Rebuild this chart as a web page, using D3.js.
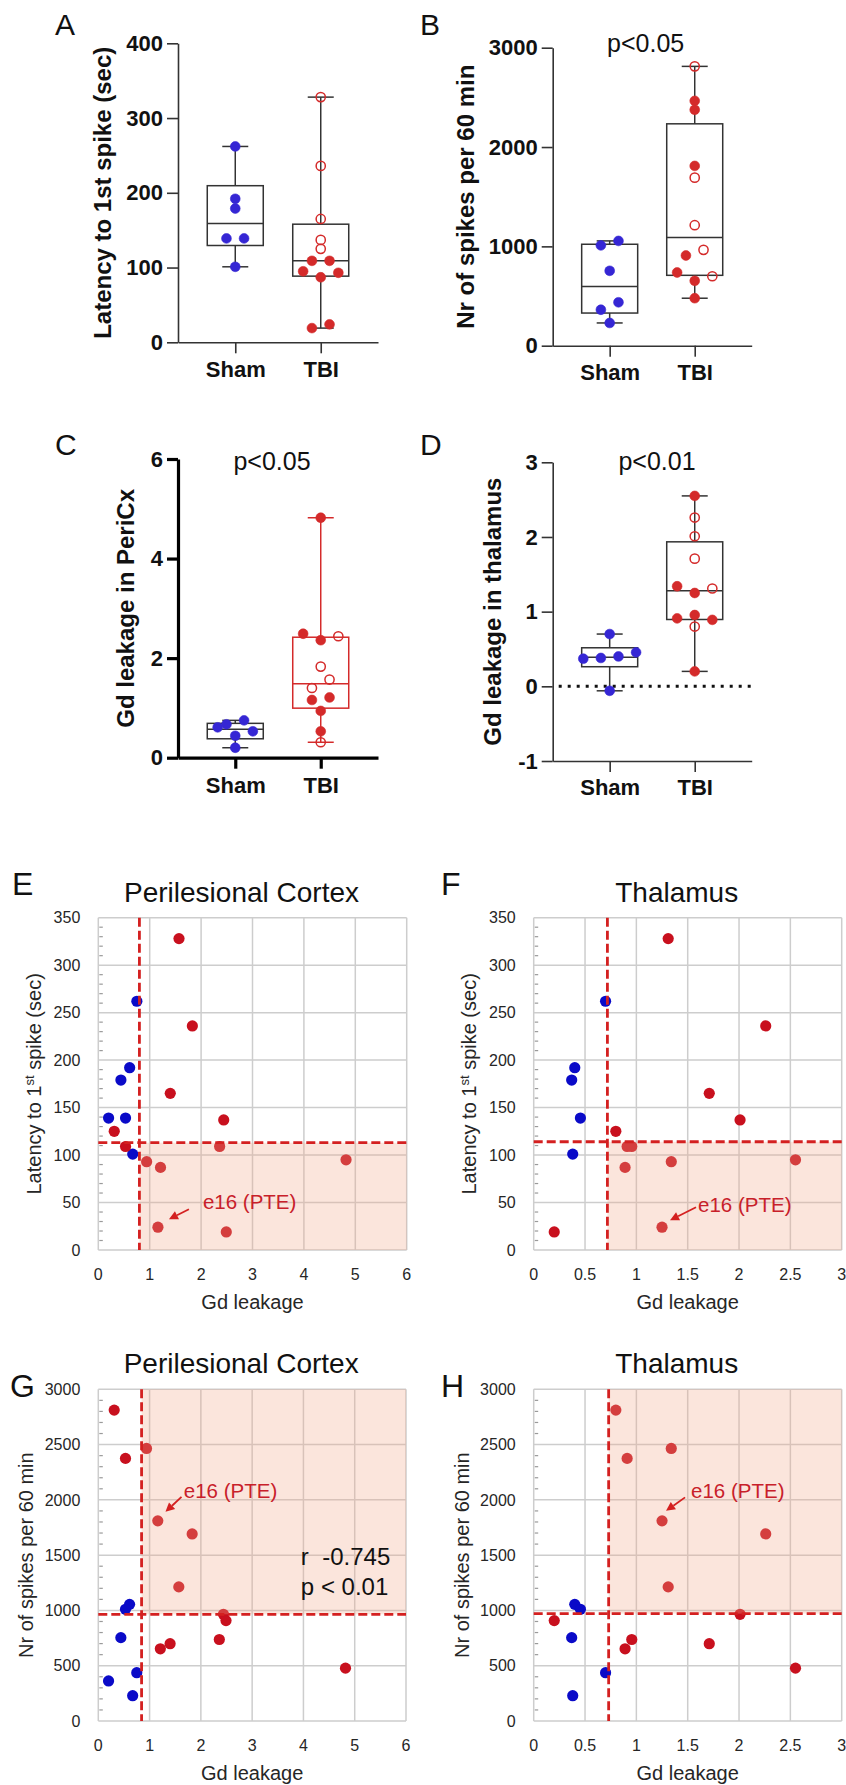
<!DOCTYPE html>
<html>
<head>
<meta charset="utf-8">
<title>Latency, spikes and Gd leakage</title>
<script src="https://d3js.org/d3.v7.min.js"></script>
<style>
	body { margin: 0; background: #fff; }
	svg { display: block; }
</style>
</head>
<body>
<svg id="fig" width="846" height="1785"></svg>
<script>
	// groups on the box plots
	const groups = ["Sham", "TBI"]

	// one entry per sham animal
	const shamLatency = [262, 192, 179, 139, 139, 101]
	const shamSpikes = [437, 1055, 754, 362, 1010, 229]
	const shamGdCx = [0.75, 0.61, 0.44, 0.20, 0.53, 0.67]
	const shamGdTh = [0.70, 0.40, 0.37, -0.06, 0.455, 0.38]

	// one entry per TBI animal (same order in every array)
	const tbiLatency = [328, 236, 165, 137, 125, 109, 109, 93, 87, 95, 24, 19]
	const tbiSpikes = [1213, 1692, 699, 965, 2812, 2375, 737, 2465, 653, 478, 1810, 908]
	const tbiGdCx = [1.57, 1.83, 1.40, 2.44, 0.31, 0.53, 2.36, 0.94, 1.21, 4.82, 1.16, 2.49]
	const tbiGdTh = [1.31, 2.26, 1.71, 2.01, 0.80, 0.91, 0.955, 1.34, 0.89, 2.55, 1.25, 0.20]
	const tbiOpenSymbol = [true, true, true, true, true, false, false, false, false, false, false, false]
	const pteAnimal = 10
	const pteLabel = "e16 (PTE)"

	// tick values
	const latencyTicks = [0, 100, 200, 300, 400]
	const spikeTicks = [0, 1000, 2000, 3000]
	const cxTicks = [0, 2, 4, 6]
	const thTicks = [-1, 0, 1, 2, 3]

	// cut-offs used on the scatter plots [gd leakage, y value]
	const cutE = [0.80, 113]
	const cutF = [0.718, 114]
	const cutG = [0.844, 965]
	const cutH = [0.73, 971]

	const FONT = "'Liberation Sans', Arial, Helvetica, sans-serif"
	const boxBlue = "#3526d4", boxRed = "#d42a2a"
	const dotBlue = "#0a0ac8", dotRed = "#c8101e"
	const cutRed = "#d42020"

	const svg = d3.select("#fig")

	// percentile as Prism computes it, position (n+1)p
	function quant(s, p) {
		const n = s.length, pos = (n + 1) * p
		const i = Math.floor(pos), f = pos - i
		if (i < 1) return s[0]
		if (i >= n) return s[n - 1]
		return s[i - 1] + f * (s[i] - s[i - 1])
	}

	// spread points that sit on nearly the same row
	function swarm(vals, y, step) {
		const idx = d3.range(vals.length).sort((a, b) => vals[a] - vals[b])
		const rows = []
		idx.forEach(i => {
			const r = rows[rows.length - 1]
			if (r && Math.abs(y(vals[i]) - y(vals[r[0]])) < 8.5) r.push(i)
			else rows.push([i])
		})
		const off = new Array(vals.length).fill(0)
		rows.forEach(r => {
			const k = r.length
			let order = r.slice()
			if (k === 3) {
				const m = d3.mean(r, i => vals[i])
				const c = d3.maxIndex(r, i => Math.abs(vals[i] - m))
				const sides = r.filter((_, j) => j !== c).sort((a, b) => vals[b] - vals[a])
				order = [sides[0], r[c], sides[1]]
			}
			order.forEach((i, j) => off[i] = (j - (k - 1) / 2) * step)
		})
		return off
	}

	function letter(t, x, y, size) {
		svg.append("text").attr("x", x).attr("y", y).text(t)
			.attr("font-family", FONT).attr("font-size", size).attr("fill", "#111")
	}

	function boxPanel(o) {
		const g = svg.append("g")
		const x = d3.scalePoint().domain(groups).range([o.left, o.right]).padding(0.67)
		const y = d3.scaleLinear().domain(o.domain).range([o.bottom, o.top])
		const axW = o.heavy ? 3.2 : 1.6, axC = o.heavy ? "#000" : "#333"

		if (o.zeroLine) {
			g.append("line").attr("x1", o.left + 6).attr("x2", o.right).attr("y1", y(0)).attr("y2", y(0))
				.attr("stroke", "#111").attr("stroke-width", 3).attr("stroke-dasharray", "3,6")
		}

		const ya = g.append("g").attr("transform", `translate(${o.left},0)`)
			.call(d3.axisLeft(y).tickValues(o.ticks).tickFormat(d => String(d))
				.tickSize(11).tickSizeOuter(0).tickPadding(4))
		const xa = g.append("g").attr("transform", `translate(0,${o.bottom})`)
			.call(d3.axisBottom(x).tickSize(11).tickSizeOuter(0).tickPadding(o.xPad))
		;[ya, xa].forEach(a => {
			a.selectAll("path,line").attr("stroke", axC).attr("stroke-width", axW)
			a.selectAll("text").attr("font-family", FONT).attr("font-weight", "bold")
				.attr("font-size", 22).attr("fill", "#111")
		})

		groups.forEach((grp, gi) => {
			const vals = o.values[gi]
			const s = vals.slice().sort(d3.ascending)
			const q1 = quant(s, 0.25), med = quant(s, 0.5), q3 = quant(s, 0.75)
			const cx = x(grp)
			const col = gi === 1 && o.redBox ? boxRed : "#333"
			const bw = 1.5
			const ln = (x1, y1, x2, y2) => g.append("line").attr("x1", x1).attr("y1", y1)
				.attr("x2", x2).attr("y2", y2).attr("stroke", col).attr("stroke-width", bw)
			ln(cx, y(s[0]), cx, y(q1))
			ln(cx, y(q3), cx, y(s[s.length - 1]))
			ln(cx - 13, y(s[0]), cx + 13, y(s[0]))
			ln(cx - 13, y(s[s.length - 1]), cx + 13, y(s[s.length - 1]))
			g.append("rect").attr("x", cx - 28).attr("width", 56)
				.attr("y", y(q3)).attr("height", y(q1) - y(q3))
				.attr("fill", "none").attr("stroke", col).attr("stroke-width", bw)
			ln(cx - 28, y(med), cx + 28, y(med))

			const off = swarm(vals, y, 17.6)
			vals.forEach((v, i) => {
				const open = gi === 1 && tbiOpenSymbol[i]
				const c = gi === 0 ? boxBlue : boxRed
				g.append("circle").attr("cx", cx + off[i]).attr("cy", y(v))
					.attr("r", open ? 4.6 : 4.9)
					.attr("fill", open ? "none" : c)
					.attr("stroke", c).attr("stroke-width", open ? 1.5 : 0.6)
			})
		})

		g.append("text").attr("transform", `translate(${o.labelX},${(o.top + o.bottom) / 2}) rotate(-90)`)
			.attr("text-anchor", "middle").attr("font-family", FONT).attr("font-weight", "bold")
			.attr("font-size", 24).attr("fill", "#111").text(o.label)

		if (o.pText) {
			g.append("text").attr("x", o.pText[1]).attr("y", o.pText[2]).attr("text-anchor", "middle")
				.attr("font-family", FONT).attr("font-size", 25).attr("fill", "#111").text(o.pText[0])
		}
		letter(o.letter[0], o.letter[1], o.letter[2], 30)
	}

	function scatterPanel(o) {
		const g = svg.append("g")
		const x = d3.scaleLinear().domain([0, o.xMax]).range([o.left, o.right])
		const y = d3.scaleLinear().domain([0, o.yMax]).range([o.bottom, o.top])
		const xt = d3.range(0, o.xMax + 1e-9, o.xStep)
		const yt = d3.range(0, o.yMax + 1e-9, o.yStep)
		const grid = "#cdcdcd"

		// minor ticks on the value axis
		d3.range(0, o.yMax, o.yStep / 5).filter((d, i) => i % 5 !== 0).forEach(d => {
			g.append("line").attr("x1", o.left + 1).attr("x2", o.left + 4.5)
				.attr("y1", y(d)).attr("y2", y(d)).attr("stroke", "#9a9a9a").attr("stroke-width", 1.2)
		})
		xt.forEach(d => g.append("line").attr("x1", x(d)).attr("x2", x(d)).attr("y1", o.top).attr("y2", o.bottom)
			.attr("stroke", grid).attr("stroke-width", 1.5))
		yt.forEach(d => g.append("line").attr("x1", o.left).attr("x2", o.right).attr("y1", y(d)).attr("y2", y(d))
			.attr("stroke", grid).attr("stroke-width", 1.5))

		const pts = []
		o.sham[0].forEach((v, i) => pts.push([v, o.sham[1][i], dotBlue]))
		o.tbi[0].forEach((v, i) => pts.push([v, o.tbi[1][i], dotRed]))
		g.selectAll("circle.pt").data(pts.filter(p => p[0] >= 0 && p[0] <= o.xMax))
			.join("circle").attr("class", "pt")
			.attr("cx", d => x(d[0])).attr("cy", d => y(d[1])).attr("r", 5.6).attr("fill", d => d[2])

		// shaded quadrant
		const [cx0, cy0] = o.cut
		const yA = o.shadeHigh ? o.yMax : cy0, yB = o.shadeHigh ? cy0 : 0
		g.append("rect").attr("x", x(cx0)).attr("width", x(o.xMax) - x(cx0))
			.attr("y", y(yA)).attr("height", y(yB) - y(yA))
			.attr("fill", "#f2a88a").attr("fill-opacity", 0.3)

		g.append("line").attr("x1", x(cx0)).attr("x2", x(cx0)).attr("y1", o.top).attr("y2", o.bottom)
			.attr("stroke", cutRed).attr("stroke-width", 2.8).attr("stroke-dasharray", "9,4")
		g.append("line").attr("x1", o.left).attr("x2", o.right).attr("y1", y(cy0)).attr("y2", y(cy0))
			.attr("stroke", cutRed).attr("stroke-width", 2.8).attr("stroke-dasharray", "9,4")

		// tick labels
		g.selectAll("text.yt").data(yt).join("text").attr("class", "yt")
			.attr("x", o.left - 18).attr("y", d => y(d)).attr("dy", "0.36em").attr("text-anchor", "end")
			.attr("font-family", FONT).attr("font-size", 16).attr("fill", "#262626").text(d => d)
		g.selectAll("text.xt").data(xt).join("text").attr("class", "xt")
			.attr("x", d => x(d)).attr("y", o.bottom + 30).attr("text-anchor", "middle")
			.attr("font-family", FONT).attr("font-size", 16).attr("fill", "#262626").text(d => d)

		g.append("text").attr("x", (o.left + o.right) / 2).attr("y", o.bottom + 59).attr("text-anchor", "middle")
			.attr("font-family", FONT).attr("font-size", 20).attr("fill", "#262626").text("Gd leakage")
		g.append("text").attr("x", (o.left + o.right) / 2 - 11).attr("y", o.top - 16).attr("text-anchor", "middle")
			.attr("font-family", FONT).attr("font-size", 28).attr("fill", "#111").text(o.title)

		const yl = g.append("text")
			.attr("transform", `translate(${o.left - o.labelGap},${(o.top + o.bottom) / 2}) rotate(-90)`)
			.attr("text-anchor", "middle").attr("font-family", FONT).attr("font-size", 20).attr("fill", "#262626")
		if (o.sup) {
			yl.append("tspan").text(o.label[0])
			yl.append("tspan").attr("font-size", 13).attr("dy", -7).text(o.label[1])
			yl.append("tspan").attr("dy", 7).text(o.label[2])
		} else {
			yl.text(o.label)
		}

		// annotation for the PTE animal
		const px = x(o.tbi[0][pteAnimal]), py = y(o.tbi[1][pteAnimal])
		const a = o.arrow
		const sx = px + a[0], sy = py + a[1], ex = px + a[2], ey = py + a[3]
		const ang = Math.atan2(ey - sy, ex - sx), hl = 9, hw = 4.5
		const bx = ex - hl * Math.cos(ang), by = ey - hl * Math.sin(ang)
		g.append("line").attr("x1", sx).attr("y1", sy).attr("x2", bx).attr("y2", by)
			.attr("stroke", cutRed).attr("stroke-width", 1.8)
		g.append("path").attr("d", `M${ex},${ey}L${bx - hw * Math.sin(ang)},${by + hw * Math.cos(ang)}L${bx + hw * Math.sin(ang)},${by - hw * Math.cos(ang)}Z`)
			.attr("fill", cutRed)
		g.append("text").attr("x", px + a[4]).attr("y", py + a[5]).attr("font-family", FONT)
			.attr("font-size", 20.5).attr("fill", "#c8202a").text(pteLabel)

		if (o.stats) {
			o.stats.forEach((t, i) => g.append("text").attr("x", x(3.95)).attr("y", y(1410) + i * 30)
				.style("white-space", "pre").attr("font-family", FONT).attr("font-size", 24).attr("fill", "#111").text(t))
		}
		letter(o.letter[0], o.letter[1], o.letter[2], 32)
	}

	boxPanel({
		left: 178, right: 378, top: 43.3, bottom: 342.3, domain: [0, 400], ticks: latencyTicks,
		values: [shamLatency, tbiLatency], label: "Latency to 1st spike (sec)", labelX: 111,
		xPad: 8, letter: ["A", 55, 35]
	})
	boxPanel({
		left: 552.7, right: 751.7, top: 47.7, bottom: 345.7, domain: [0, 3000], ticks: spikeTicks,
		values: [shamSpikes, tbiSpikes], label: "Nr of spikes per 60 min", labelX: 474,
		xPad: 8, pText: ["p<0.05", 645.7, 52], letter: ["B", 420, 35]
	})
	boxPanel({
		left: 178, right: 378, top: 459, bottom: 757.7, domain: [0, 6], ticks: cxTicks,
		values: [shamGdCx, tbiGdCx], label: "Gd leakage in PeriCx", labelX: 134, heavy: true, redBox: true,
		xPad: 9, pText: ["p<0.05", 272, 470], letter: ["C", 55, 455]
	})
	boxPanel({
		left: 552.7, right: 751.7, top: 462.3, bottom: 761, domain: [-1, 3], ticks: thTicks,
		values: [shamGdTh, tbiGdTh], label: "Gd leakage in thalamus", labelX: 501, zeroLine: true,
		xPad: 7.5, pText: ["p<0.01", 657, 470], letter: ["D", 420, 455]
	})

	scatterPanel({
		left: 98.3, right: 406.7, top: 917.7, bottom: 1250, xMax: 6, xStep: 1, yMax: 350, yStep: 50,
		sham: [shamGdCx, shamLatency], tbi: [tbiGdCx, tbiLatency], cut: cutE, shadeHigh: false,
		title: "Perilesional Cortex", sup: true, label: ["Latency to 1", "st", " spike (sec)"], labelGap: 57.5,
		arrow: [31, -18, 11, -8, 45, -18], letter: ["E", 12, 895]
	})
	scatterPanel({
		left: 533.7, right: 841.7, top: 917.7, bottom: 1250, xMax: 3, xStep: 0.5, yMax: 350, yStep: 50,
		sham: [shamGdTh, shamLatency], tbi: [tbiGdTh, tbiLatency], cut: cutF, shadeHigh: false,
		title: "Thalamus", sup: true, label: ["Latency to 1", "st", " spike (sec)"], labelGap: 57.5,
		arrow: [34, -20, 8, -7, 36, -15.5], letter: ["F", 441, 895]
	})
	scatterPanel({
		left: 98.3, right: 406, top: 1389.3, bottom: 1721, xMax: 6, xStep: 1, yMax: 3000, yStep: 500,
		sham: [shamGdCx, shamSpikes], tbi: [tbiGdCx, tbiSpikes], cut: cutG, shadeHigh: true,
		title: "Perilesional Cortex", label: "Nr of spikes per 60 min", labelGap: 65,
		arrow: [23.7, -24, 7.7, -9, 26, -23], stats: ["r  -0.745", "p < 0.01"], letter: ["G", 10, 1397]
	})
	scatterPanel({
		left: 533.7, right: 841.7, top: 1389.3, bottom: 1721, xMax: 3, xStep: 0.5, yMax: 3000, yStep: 500,
		sham: [shamGdTh, shamSpikes], tbi: [tbiGdTh, tbiSpikes], cut: cutH, shadeHigh: true,
		title: "Thalamus", label: "Nr of spikes per 60 min", labelGap: 65,
		arrow: [23, -23.5, 4, -10, 29, -23], letter: ["H", 441, 1397]
	})
</script>
</body>
</html>
